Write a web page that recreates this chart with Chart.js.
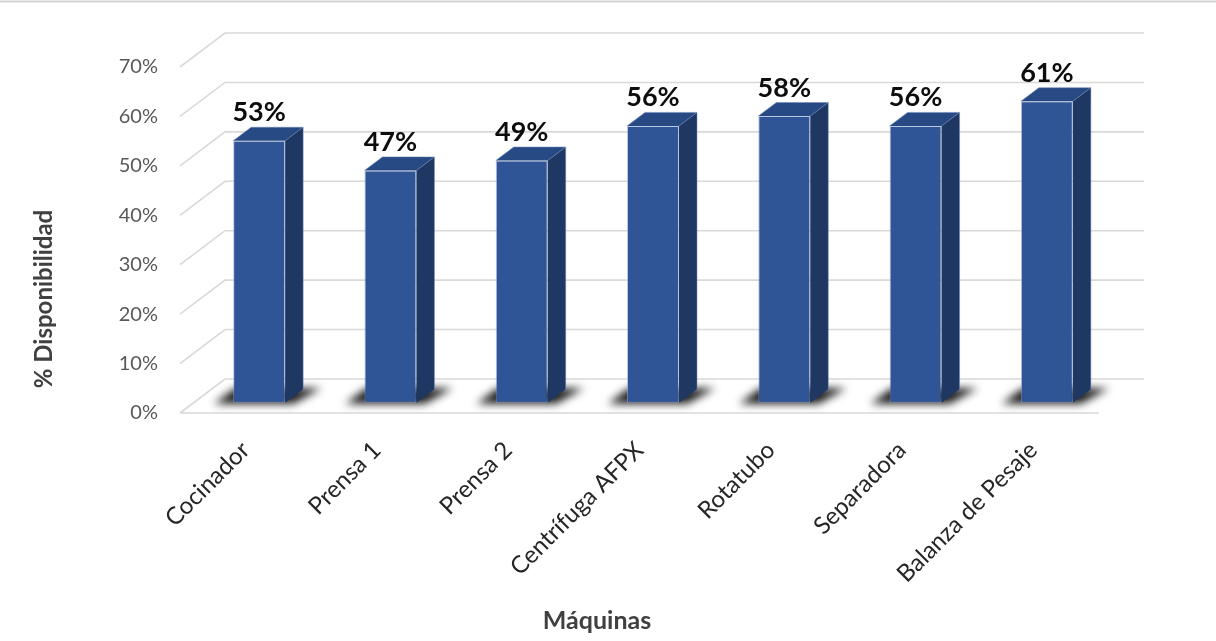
<!DOCTYPE html>
<html lang="es">
<head>
<meta charset="utf-8">
<title>Disponibilidad por máquina</title>
<script src="https://cdn.jsdelivr.net/npm/chart.js@4.4.1/dist/chart.umd.min.js"></script>
<style>
  html, body { margin: 0; padding: 0; background: #ffffff; }
  #marco { width: 1216px; height: 641px; position: relative; }
</style>
</head>
<body>
<div id="marco"><canvas id="grafico" width="1216" height="641"></canvas></div>
<script>
// Machines and their availability (fraction of time available)
const categorias = ['Cocinador', 'Prensa 1', 'Prensa 2', 'Centrífuga AFPX', 'Rotatubo', 'Separadora', 'Balanza de Pesaje'];
const disponibilidad = [0.53, 0.47, 0.49, 0.56, 0.58, 0.56, 0.61];

// Value axis range
const ejeMin = 0;
const ejeMax = 0.7;
const ejePaso = 0.1;

// Oblique projection of the 3D box: offset of the full floor depth
const PROF_X = 45;
const PROF_Y = -34;
// Columns sit from 30% to 70% of the depth
const COL_INICIO = 0.3;
const COL_PROF = 0.4;

const FUENTE = 'Lato';
const COLOR_FRENTE = '#2f5597';
const COLOR_TAPA = '#284a84';
const COLOR_LADO = '#1f3763';
const COLOR_REJILLA = '#d9d9d9';

const pct = v => Math.round(v * 100) + '%';

const caja3d = {
  id: 'caja3d',
  beforeDraw(chart) {
    const { ctx, width } = chart;
    ctx.save();
    ctx.strokeStyle = '#d4d4d4';
    ctx.lineWidth = 2;
    ctx.beginPath();
    ctx.moveTo(0, 1.5);
    ctx.lineTo(width, 1.5);
    ctx.stroke();
    ctx.restore();
  },
  beforeDatasetsDraw(chart) {
    const { ctx, chartArea: a, scales: { y } } = chart;
    ctx.save();
    // side wall diagonals and back wall lines
    ctx.strokeStyle = COLOR_REJILLA;
    ctx.lineWidth = 1.6;
    y.ticks.forEach(t => {
      const yf = y.getPixelForValue(t.value);
      ctx.beginPath();
      ctx.moveTo(a.left, yf);
      ctx.lineTo(a.left + PROF_X, yf + PROF_Y);
      ctx.lineTo(a.right + PROF_X, yf + PROF_Y);
      ctx.stroke();
    });
    // front edge of the floor
    const y0 = y.getPixelForValue(0);
    ctx.beginPath();
    ctx.moveTo(a.left, y0);
    ctx.lineTo(a.right, y0);
    ctx.stroke();

    // soft shadows on the floor under each column
    const ox = PROF_X * COL_INICIO, oy = PROF_Y * COL_INICIO;
    const bx = PROF_X * COL_PROF, by = PROF_Y * COL_PROF;
    ctx.filter = 'blur(4.5px)';
    ctx.fillStyle = 'rgba(0,0,0,0.9)';
    chart.getDatasetMeta(0).data.forEach(el => {
      const p = el.getProps(['x', 'base', 'width'], true);
      const l = p.x - p.width / 2 + ox, r = p.x + p.width / 2 + ox;
      const bf = p.base + oy, bb = bf + by;
      ctx.beginPath();
      ctx.moveTo(l - 19, bf + 1);
      ctx.lineTo(r + 8, bf + 1);
      ctx.lineTo(r + bx + 18, bb - 1);
      ctx.lineTo(l + bx - 16, bb - 1);
      ctx.closePath();
      ctx.fill();
    });
    ctx.filter = 'none';
    ctx.restore();

    // front faces are drawn by the bar controller, pushed into the box depth
    ctx.save();
    ctx.translate(ox, oy);
  },
  afterDatasetsDraw(chart) {
    const { ctx } = chart;
    ctx.restore();
    const ox = PROF_X * COL_INICIO, oy = PROF_Y * COL_INICIO;
    const bx = PROF_X * COL_PROF, by = PROF_Y * COL_PROF;
    const datos = chart.data.datasets[0].data;
    ctx.save();
    chart.getDatasetMeta(0).data.forEach((el, i) => {
      const p = el.getProps(['x', 'y', 'base', 'width'], true);
      const l = p.x - p.width / 2 + ox, r = p.x + p.width / 2 + ox;
      const t = p.y + oy, b = p.base + oy;
      // top face
      ctx.fillStyle = COLOR_TAPA;
      ctx.beginPath();
      ctx.moveTo(l, t);
      ctx.lineTo(r, t);
      ctx.lineTo(r + bx, t + by);
      ctx.lineTo(l + bx, t + by);
      ctx.closePath();
      ctx.fill();
      // right side face
      ctx.fillStyle = COLOR_LADO;
      ctx.beginPath();
      ctx.moveTo(r, t);
      ctx.lineTo(r + bx, t + by);
      ctx.lineTo(r + bx, b + by);
      ctx.lineTo(r, b);
      ctx.closePath();
      ctx.fill();
      // light edges
      ctx.strokeStyle = 'rgba(110,135,185,0.5)';
      ctx.lineWidth = 1;
      ctx.beginPath();
      ctx.moveTo(l, t);
      ctx.lineTo(l + bx, t + by);
      ctx.lineTo(r + bx, t + by);
      ctx.lineTo(r + bx, b + by);
      ctx.moveTo(r, t);
      ctx.lineTo(r + bx, t + by);
      ctx.stroke();
      // value label
      ctx.fillStyle = '#0d0d0d';
      ctx.font = 'bold 27px ' + FUENTE;
      ctx.textAlign = 'center';
      ctx.textBaseline = 'alphabetic';
      ctx.fillText(pct(datos[i]), p.x + ox, t + by - 6);
    });
    ctx.restore();
  },
  afterDraw(chart) {
    const { ctx } = chart;
    ctx.save();
    ctx.fillStyle = '#404040';
    ctx.font = 'bold 25px ' + FUENTE;
    ctx.textAlign = 'center';
    ctx.textBaseline = 'middle';
    ctx.fillText('Máquinas', 597, 621);
    ctx.font = 'bold 24px ' + FUENTE;
    ctx.translate(44, 299);
    ctx.rotate(-Math.PI / 2);
    ctx.fillText('% Disponibilidad', 0, 0);
    ctx.restore();
  }
};

new Chart(document.getElementById('grafico'), {
  type: 'bar',
  data: {
    labels: categorias,
    datasets: [{
      label: '% Disponibilidad',
      data: disponibilidad,
      backgroundColor: COLOR_FRENTE,
      borderColor: 'rgba(140,162,205,0.6)',
      borderWidth: 1,
      borderSkipped: false,
      categoryPercentage: 1,
      barPercentage: 0.396,
      clip: false
    }]
  },
  options: {
    responsive: false,
    devicePixelRatio: 1,
    animation: false,
    layout: { padding: { left: 0, right: 117, top: 67, bottom: 0 } },
    plugins: {
      legend: { display: false },
      tooltip: { enabled: false }
    },
    scales: {
      x: {
        grid: { display: false, drawTicks: false },
        border: { display: false },
        ticks: {
          autoSkip: false,
          minRotation: 45,
          maxRotation: 45,
          padding: 23,
          color: '#262626',
          font: { family: FUENTE, size: 24 }
        },
        afterFit(s) { s.height = 228; }
      },
      y: {
        min: ejeMin,
        max: ejeMax,
        grid: { display: false, drawTicks: false },
        border: { display: false },
        ticks: {
          stepSize: ejePaso,
          padding: 22,
          color: '#595959',
          font: { family: FUENTE, size: 20 },
          callback: v => pct(v)
        },
        afterFit(s) { s.width = 180; }
      }
    }
  },
  plugins: [caja3d]
});
</script>
</body>
</html>
